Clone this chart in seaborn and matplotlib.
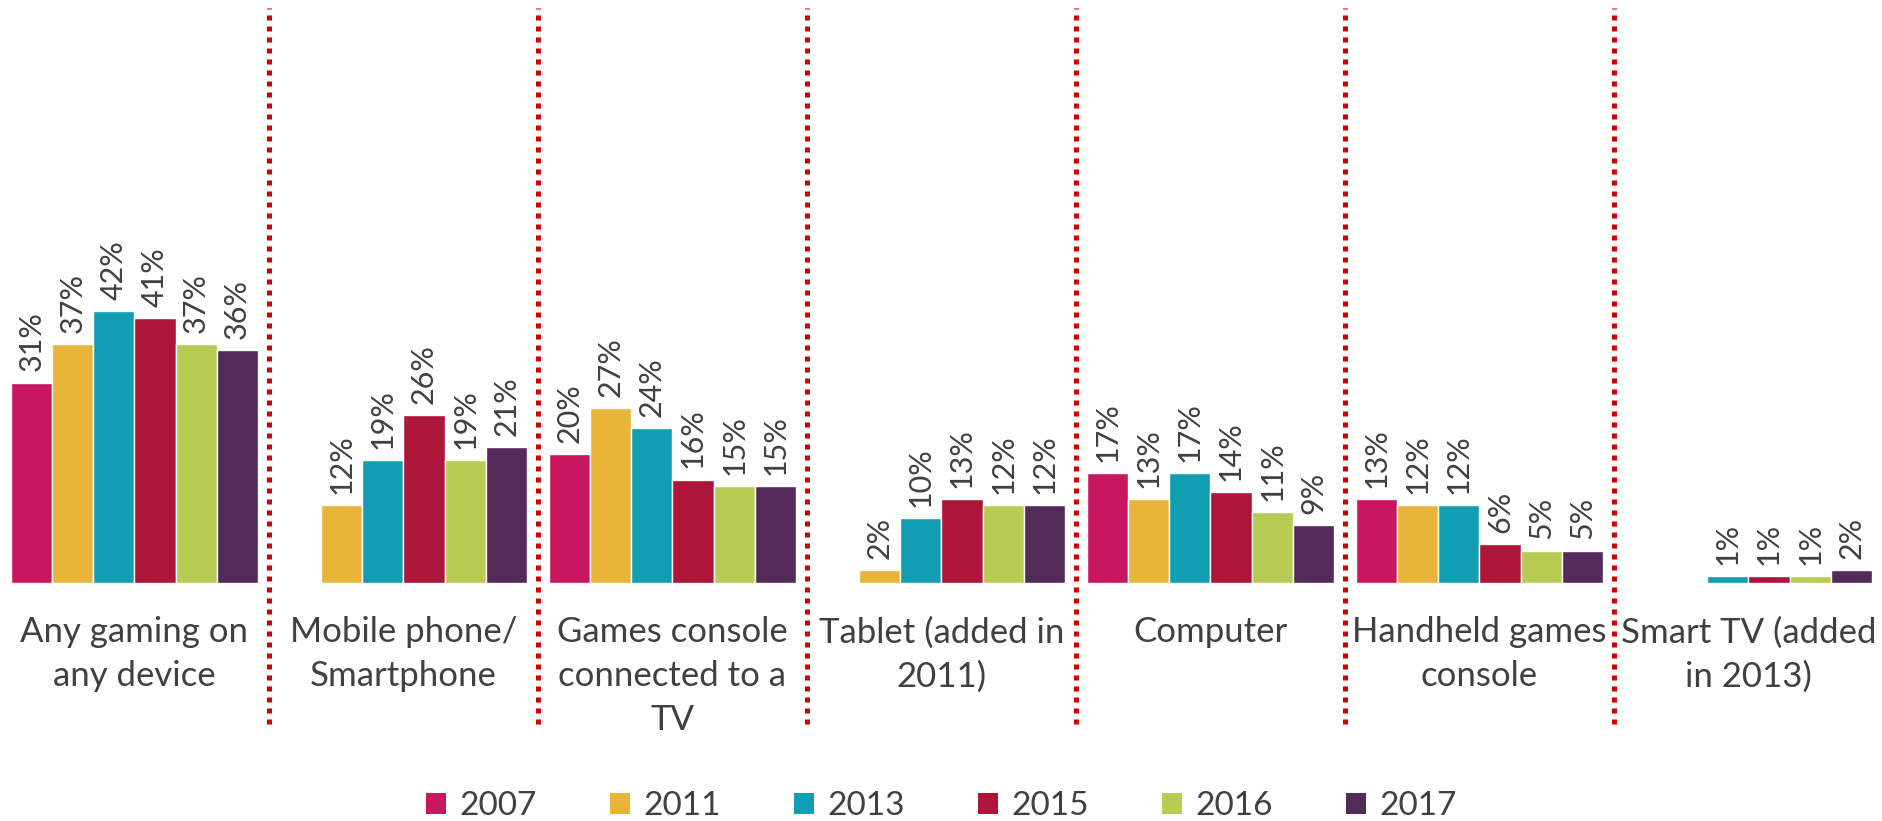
import numpy as np
import pandas as pd
import seaborn as sns
import matplotlib.pyplot as plt
from matplotlib.patches import Patch

# Data
categories = ["Any gaming on\nany device", "Mobile phone/\nSmartphone", "Games console\nconnected to a\nTV",
              "Tablet (added in\n2011)", "Computer", "Handheld games\nconsole", "Smart TV (added\nin 2013)"]
years = ["2007", "2011", "2013", "2015", "2016", "2017"]
v2007 = [31, np.nan, 20, np.nan, 17, 13, np.nan]
v2011 = [37, 12, 27, 2, 13, 12, np.nan]
v2013 = [42, 19, 24, 10, 17, 12, 1]
v2015 = [41, 26, 16, 13, 14, 6, 1]
v2016 = [37, 19, 15, 12, 11, 5, 1]
v2017 = [36, 21, 15, 12, 9, 5, 2]
colors = ["#C8175E", "#E8B43A", "#129EB2", "#AD1539", "#B8CB52", "#532A59"]

rows = []
for year, vals in zip(years, [v2007, v2011, v2013, v2015, v2016, v2017]):
    for cat, v in zip(categories, vals):
        rows.append({"category": cat, "year": year, "value": v})
df = pd.DataFrame(rows)

sns.set_style("white")
plt.rcParams['font.family'] = ['Lato', 'DejaVu Sans']
text_color = "#404040"

fig = plt.figure(figsize=(18.83, 8.21), dpi=100)
ax = fig.add_axes([0, 0.29, 1, 0.71])

sns.barplot(data=df, x="category", y="value", hue="year", order=categories, hue_order=years,
            palette=colors, saturation=1, width=0.916, edgecolor="white", linewidth=1,
            ax=ax, legend=False)

for cont in ax.containers:
    ax.bar_label(cont, fmt="{:.0f}%", rotation=90, padding=8, fontsize=22, color=text_color)

ax.set_xlim(-0.5, len(categories) - 0.5)
ax.set_ylim(0, 90.2)
ax.set_yticks([])
ax.set_xlabel("")
ax.set_ylabel("")
sns.despine(ax=ax, left=True, bottom=True)

ax.set_xticks(range(len(categories)))
ax.set_xticklabels(categories, fontsize=25, color=text_color, va="top", linespacing=1.45)
ax.tick_params(axis="x", length=0, pad=24)

# dotted separators between groups
for i in range(len(categories) - 1):
    ax.axvline(i + 0.5, ymin=-0.242, ymax=0.986, color="#D00000", linewidth=3.6,
               linestyle=(0, (1, 1.2)), clip_on=False)

handles = [Patch(facecolor=c, edgecolor="none") for c in colors]
fig.legend(handles, years, loc="center", bbox_to_anchor=(0.5, 0.018), ncol=6, frameon=False,
           fontsize=24, handlelength=0.6, handleheight=0.6, handletextpad=0.4, columnspacing=2.2,
           labelcolor=text_color)

fig.savefig("out.png", dpi=100)
